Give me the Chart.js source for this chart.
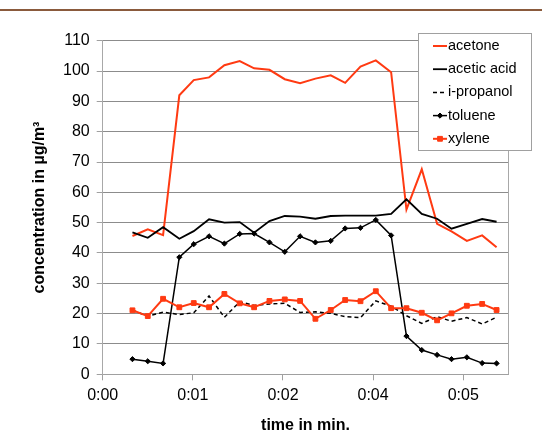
<!DOCTYPE html>
<html>
<head>
<meta charset="utf-8">
<script src="https://cdn.jsdelivr.net/npm/chart.js@4.4.1/dist/chart.umd.min.js"></script>
<style>
  html, body { margin: 0; padding: 0; background: #fff; }
  #wrap { position: relative; width: 542px; height: 441px; }
  #topline { position: absolute; left: 0; top: 9px; width: 542px; height: 2px; background: #8a5a3c; }
</style>
</head>
<body>
<div id="wrap">
  <div id="topline"></div>
  <canvas id="chart" width="542" height="441"></canvas>
</div>
<script>
// sample times (axis units), one every ~10 s
const times = [0.33, 0.50, 0.67, 0.85, 1.01, 1.18, 1.35, 1.52, 1.68, 1.85, 2.02, 2.19, 2.36, 2.53, 2.69,
               2.86, 3.03, 3.20, 3.37, 3.54, 3.71, 3.87, 4.04, 4.21, 4.37];
const xTickLabels = ['0:00', '0:01', '0:02', '0:04', '0:05'];

const acetone    = [45.6, 47.8, 45.9, 92.0, 97.0, 97.9, 101.9, 103.3, 100.9, 100.4, 97.3, 96.0, 97.5, 98.6, 96.1,
                    101.5, 103.5, 99.6, 54.3, 67.6, 49.6, 47.1, 44.0, 45.8, 41.9];
const aceticAcid = [46.8, 45.0, 48.5, 44.7, 47.2, 51.1, 50.0, 50.2, 46.7, 50.5, 52.2, 52.0, 51.3, 52.2, 52.3,
                    52.3, 52.3, 52.9, 57.7, 52.9, 51.3, 48.0, 49.6, 51.2, 50.3];
const iPropanol  = [21.1, 19.2, 20.5, 19.7, 20.3, 25.8, 18.8, 23.9, 22.7, 23.2, 23.4, 20.4, 20.6, 20.1, 19.0,
                    18.7, 24.2, 22.5, 19.3, 16.8, 19.0, 17.5, 18.7, 16.6, 18.8];
const toluene    = [5.0, 4.3, 3.6, 38.6, 42.9, 45.5, 43.1, 46.3, 46.4, 43.5, 40.4, 45.5, 43.5, 44.0, 48.1,
                    48.3, 50.9, 45.8, 12.6, 8.0, 6.4, 5.0, 5.6, 3.7, 3.6];
const xylene     = [21.1, 19.2, 24.9, 22.1, 23.5, 22.1, 26.5, 23.4, 22.1, 24.2, 24.7, 24.2, 18.3, 21.2, 24.5,
                    24.1, 27.4, 21.8, 21.8, 20.3, 17.8, 20.1, 22.6, 23.2, 21.2];

const RED = '#ff3a12';
const FONT = '"Liberation Sans", Arial, sans-serif';

function points(values) {
    return times.map((t, i) => ({ x: t, y: values[i] }));
}

// legend box drawn over the chart area, like the spreadsheet original
const boxLegend = {
    id: 'boxLegend',
    afterDraw(chart) {
        const ctx = chart.ctx;
        const left = 418.5, top = 33.5, w = 113, h = 117;
        ctx.save();
        ctx.fillStyle = '#fff';
        ctx.fillRect(left, top, w, h);
        ctx.strokeStyle = '#a0a0a0';
        ctx.lineWidth = 1;
        ctx.strokeRect(left, top, w, h);
        ctx.font = '14.5px ' + FONT;
        ctx.textBaseline = 'middle';
        ctx.fillStyle = '#000';
        const items = chart.data.datasets.slice().sort((a, b) => a.legendIndex - b.legendIndex);
        items.forEach((ds, i) => {
            const y = 46 + i * 23.2;
            ctx.strokeStyle = ds.borderColor;
            ctx.lineWidth = ds.borderWidth;
            ctx.setLineDash(ds.borderDash || []);
            ctx.beginPath();
            ctx.moveTo(433, y);
            ctx.lineTo(447, y);
            ctx.stroke();
            ctx.setLineDash([]);
            if (ds.pointRadius > 0) {
                ctx.fillStyle = ds.pointBackgroundColor;
                ctx.strokeStyle = ds.pointBorderColor;
                ctx.lineWidth = 1;
                Chart.helpers.drawPoint(ctx, { pointStyle: ds.pointStyle, radius: ds.pointRadius, borderWidth: 1 }, 440, y);
            }
            ctx.fillStyle = '#000';
            ctx.fillText(ds.label, 448, y);
        });
        ctx.restore();
    }
};

// right edge of the plot area
const plotBorder = {
    id: 'plotBorder',
    beforeDatasetsDraw(chart) {
        const a = chart.chartArea;
        const ctx = chart.ctx;
        ctx.save();
        ctx.strokeStyle = '#a8a8a8';
        ctx.lineWidth = 1;
        ctx.beginPath();
        ctx.moveTo(Math.round(a.right) + 0.5, a.top);
        ctx.lineTo(Math.round(a.right) + 0.5, a.bottom);
        ctx.stroke();
        ctx.restore();
    }
};

const ctx = document.getElementById('chart').getContext('2d');
new Chart(ctx, {
    type: 'line',
    data: {
        datasets: [
            {
                label: 'acetone', legendIndex: 0, order: 5,
                data: points(acetone),
                borderColor: RED, borderWidth: 2, pointRadius: 0
            },
            {
                label: 'acetic acid', legendIndex: 1, order: 4,
                data: points(aceticAcid),
                borderColor: '#000', borderWidth: 1.8, pointRadius: 0
            },
            {
                label: 'i-propanol', legendIndex: 2, order: 3,
                data: points(iPropanol),
                borderColor: '#000', borderWidth: 1.5, borderDash: [4, 3], pointRadius: 0
            },
            {
                label: 'toluene', legendIndex: 3, order: 2,
                data: points(toluene),
                borderColor: '#000', borderWidth: 1.5,
                pointStyle: 'rectRot', pointRadius: 2.6,
                pointBackgroundColor: '#000', pointBorderColor: '#000', pointBorderWidth: 1
            },
            {
                label: 'xylene', legendIndex: 4, order: 1,
                data: points(xylene),
                borderColor: RED, borderWidth: 2,
                pointStyle: 'rect', pointRadius: 3.4,
                pointBackgroundColor: RED, pointBorderColor: RED, pointBorderWidth: 1
            }
        ]
    },
    options: {
        responsive: false,
        animation: false,
        devicePixelRatio: 1,
        layout: { padding: { top: 40.7, right: 33.7, bottom: 0, left: 0 } },
        elements: { line: { tension: 0 } },
        plugins: {
            legend: { display: false },
            tooltip: { enabled: false }
        },
        scales: {
            x: {
                type: 'linear',
                min: 0,
                max: 4.5,
                afterBuildTicks: (scale) => {
                    scale.ticks = xTickLabels.map((_, i) => ({ value: i }));
                },
                afterFit: (scale) => { scale.height = 66.7; },
                ticks: {
                    callback: (v, i) => xTickLabels[i],
                    font: { family: FONT, size: 16 },
                    color: '#000',
                    padding: 6,
                    maxRotation: 0
                },
                grid: { drawOnChartArea: false, drawTicks: true, tickLength: 6, color: '#a0a0a0' },
                border: { color: '#a0a0a0' },
                title: {
                    display: true,
                    text: 'time in min.',
                    font: { family: FONT, size: 16, weight: 'bold' },
                    color: '#000',
                    padding: { top: 0, bottom: 5.7 }
                }
            },
            y: {
                min: 0,
                max: 110,
                afterFit: (scale) => { scale.width = 102.7; },
                ticks: {
                    stepSize: 10,
                    font: { family: FONT, size: 16 },
                    color: '#000',
                    padding: 7
                },
                grid: { color: '#8c8c8c', tickLength: 6, tickColor: '#a0a0a0' },
                border: { color: '#a8a8a8' },
                title: {
                    display: true,
                    text: 'concentration in µg/m³',
                    font: { family: FONT, size: 16, weight: 'bold' },
                    color: '#000',
                    padding: { top: 30.4, bottom: 0 }
                }
            }
        }
    },
    plugins: [plotBorder, boxLegend]
});
</script>
</body>
</html>
